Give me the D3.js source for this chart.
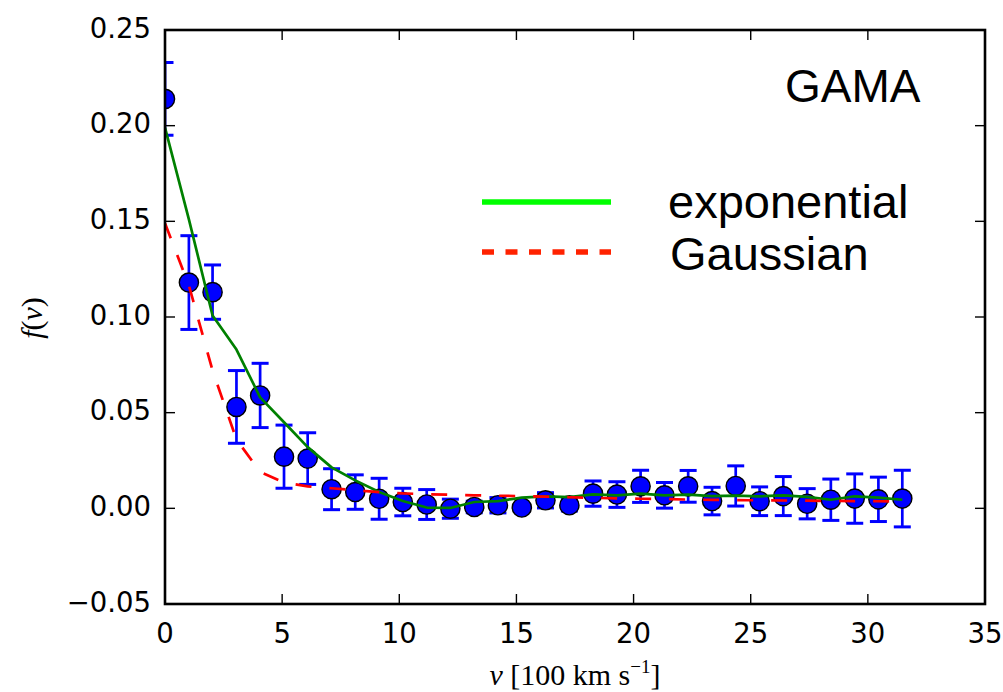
<!DOCTYPE html>
<html>
<head>
<meta charset="utf-8">
<script src="https://cdn.jsdelivr.net/npm/d3@7"></script>
<style>
  html, body { margin: 0; padding: 0; background: #ffffff; }
  svg { display: block; }
</style>
</head>
<body>
<svg id="chart" width="1003" height="692"></svg>
<script>
// Velocity bins (units of 100 km/s)
const vBins = [0, 1.02, 2.03, 3.05, 4.06, 5.08, 6.09, 7.11, 8.12, 9.14,
  10.15, 11.17, 12.18, 13.20, 14.21, 15.23, 16.24, 17.26, 18.27, 19.29,
  20.30, 21.32, 22.33, 23.35, 24.36, 25.38, 26.39, 27.41, 28.42, 29.44,
  30.45, 31.47];

// Measured distribution f(v) with 1-sigma errors
const fObs = [0.214, 0.118, 0.113, 0.053, 0.059, 0.027, 0.026, 0.010, 0.0085, 0.005,
  0.0033, 0.002, -0.0002, 0.0007, 0.0016, 0.0004, 0.0042, 0.0016, 0.0077, 0.0072,
  0.0115, 0.0068, 0.0115, 0.0038, 0.0117, 0.0037, 0.0064, 0.0024, 0.0045, 0.0051,
  0.0047, 0.0051];
const fErr = [0.019, 0.0245, 0.0142, 0.019, 0.0168, 0.0165, 0.0135, 0.0107, 0.009, 0.0107,
  0.0072, 0.0078, 0.005, 0.003, 0.004, 0.002, 0.004, 0.003, 0.0066, 0.0067,
  0.0084, 0.0067, 0.0083, 0.0072, 0.0105, 0.0075, 0.0102, 0.0079, 0.0108, 0.0129,
  0.0116, 0.0148];

// Model fits evaluated at the bins
const fExponential = [0.199, 0.151, 0.1008, 0.083, 0.058, 0.045, 0.032, 0.0214, 0.0146, 0.0085,
  0.0038, 0.0004, 0.0002, 0.0033, 0.0038, 0.0056, 0.0063, 0.0059, 0.0073, 0.0068,
  0.0077, 0.0068, 0.0072, 0.0064, 0.0066, 0.0063, 0.0068, 0.0060, 0.0045, 0.0063,
  0.0056, 0.0045];
const fGaussian = [0.149, 0.1165, 0.072, 0.036, 0.019, 0.0135, 0.0115, 0.0105, 0.0095, 0.0085,
  0.0078, 0.0074, 0.0071, 0.0068, 0.0066, 0.0064, 0.0061, 0.0058, 0.0055, 0.0052,
  0.0050, 0.0048, 0.0046, 0.0044, 0.0043, 0.0042, 0.0041, 0.0040, 0.0039, 0.0038,
  0.0037, 0.0036];

const xTicks = [0, 5, 10, 15, 20, 25, 30, 35];
const yTicks = [-0.05, 0.00, 0.05, 0.10, 0.15, 0.20, 0.25];

const legendLabels = ["exponential", "Gaussian"];
const panelLabel = "GAMA";

const svg = d3.select("#chart");
const plot = { left: 165, top: 30, right: 985, bottom: 604 };

const x = d3.scaleLinear().domain([0, 35]).range([plot.left, plot.right]);
const y = d3.scaleLinear().domain([-0.05, 0.25]).range([plot.bottom, plot.top]);

svg.append("defs").append("clipPath").attr("id", "plotClip")
  .append("rect")
  .attr("x", plot.left).attr("y", plot.top)
  .attr("width", plot.right - plot.left).attr("height", plot.bottom - plot.top);

const data = vBins.map((v, i) => ({ v, f: fObs[i], e: fErr[i] }));

const inner = svg.append("g").attr("clip-path", "url(#plotClip)");

// Error bars
const capHalf = 8.5;
const eb = inner.append("g").attr("stroke", "#0000ff").attr("stroke-width", 2.7).attr("fill", "none");
data.forEach(d => {
  const cx = x(d.v), y1 = y(d.f + d.e), y0 = y(d.f - d.e);
  eb.append("line").attr("x1", cx).attr("x2", cx).attr("y1", y1).attr("y2", y0);
  eb.append("line").attr("x1", cx - capHalf).attr("x2", cx + capHalf).attr("y1", y1).attr("y2", y1).attr("stroke-width", 3);
  eb.append("line").attr("x1", cx - capHalf).attr("x2", cx + capHalf).attr("y1", y0).attr("y2", y0).attr("stroke-width", 3);
});

// Markers
inner.append("g").selectAll("circle").data(data).join("circle")
  .attr("cx", d => x(d.v)).attr("cy", d => y(d.f)).attr("r", 9.6)
  .attr("fill", "#0000ff").attr("stroke", "#000000").attr("stroke-width", 1.4);

// Fit curves
const line = (arr) => d3.line().x((d, i) => x(vBins[i])).y(d => y(d))(arr);
inner.append("path").attr("d", line(fExponential))
  .attr("fill", "none").attr("stroke", "#008000").attr("stroke-width", 2.7)
  .attr("stroke-linejoin", "round");
inner.append("path").attr("d", line(fGaussian))
  .attr("fill", "none").attr("stroke", "#ff0000").attr("stroke-width", 2.7)
  .attr("stroke-dasharray", "16,18");

// Ticks on all four sides, pointing inward
const tickLen = 10;
const tk = svg.append("g").attr("stroke", "#000").attr("stroke-width", 1.4);
xTicks.forEach(t => {
  const px = x(t);
  tk.append("line").attr("x1", px).attr("x2", px).attr("y1", plot.bottom).attr("y2", plot.bottom - tickLen);
  tk.append("line").attr("x1", px).attr("x2", px).attr("y1", plot.top).attr("y2", plot.top + tickLen);
});
yTicks.forEach(t => {
  const py = y(t);
  tk.append("line").attr("x1", plot.left).attr("x2", plot.left + tickLen).attr("y1", py).attr("y2", py);
  tk.append("line").attr("x1", plot.right).attr("x2", plot.right - tickLen).attr("y1", py).attr("y2", py);
});

// Frame
svg.append("rect")
  .attr("x", plot.left).attr("y", plot.top)
  .attr("width", plot.right - plot.left).attr("height", plot.bottom - plot.top)
  .attr("fill", "none").attr("stroke", "#000").attr("stroke-width", 2.6);

// Tick labels
const tickFont = "'DejaVu Sans', sans-serif";
svg.append("g").selectAll("text").data(xTicks).join("text")
  .attr("x", d => x(d)).attr("y", 643)
  .attr("text-anchor", "middle")
  .attr("font-family", tickFont).attr("font-size", 27.5)
  .text(d => d3.format("d")(d));
svg.append("g").selectAll("text").data(yTicks).join("text")
  .attr("x", 151).attr("y", d => y(d) + 7.5)
  .attr("text-anchor", "end")
  .attr("font-family", tickFont).attr("font-size", 27.5)
  .text(d => d3.format(".2f")(d));

// Axis titles
const serif = "'Liberation Serif', 'DejaVu Serif', serif";
const xl = svg.append("text")
  .attr("x", (plot.left + plot.right) / 2).attr("y", 685)
  .attr("text-anchor", "middle")
  .attr("font-family", serif).attr("font-size", 30);
xl.append("tspan").attr("font-style", "italic").text("v");
xl.append("tspan").text(" [100 km s");
xl.append("tspan").attr("font-size", 19).attr("dy", -12).text("\u22121");
xl.append("tspan").attr("dy", 12).text("]");

const yl = svg.append("text")
  .attr("transform", "translate(42,318) rotate(-90)")
  .attr("text-anchor", "middle")
  .attr("font-family", serif).attr("font-size", 30);
yl.append("tspan").attr("font-style", "italic").text("f");
yl.append("tspan").text("(");
yl.append("tspan").attr("font-style", "italic").text("v");
yl.append("tspan").text(")");

// Panel label
svg.append("text")
  .attr("x", 785).attr("y", 102)
  .attr("font-family", "'Liberation Sans', Arial, sans-serif").attr("font-size", 46)
  .text(panelLabel);

// Legend
const legend = svg.append("g");
legend.append("line").attr("x1", 482).attr("x2", 611).attr("y1", 202).attr("y2", 202)
  .attr("stroke", "#00ff00").attr("stroke-width", 5.5);
legend.append("line").attr("x1", 482).attr("x2", 611).attr("y1", 252).attr("y2", 252)
  .attr("stroke", "#ff2200").attr("stroke-width", 5.5).attr("stroke-dasharray", "12,11.5");
legend.append("text").attr("x", 668).attr("y", 218)
  .attr("font-family", "'Liberation Sans', Arial, sans-serif").attr("font-size", 47)
  .text(legendLabels[0]);
legend.append("text").attr("x", 670).attr("y", 270)
  .attr("font-family", "'Liberation Sans', Arial, sans-serif").attr("font-size", 47)
  .text(legendLabels[1]);
</script>
</body>
</html>
